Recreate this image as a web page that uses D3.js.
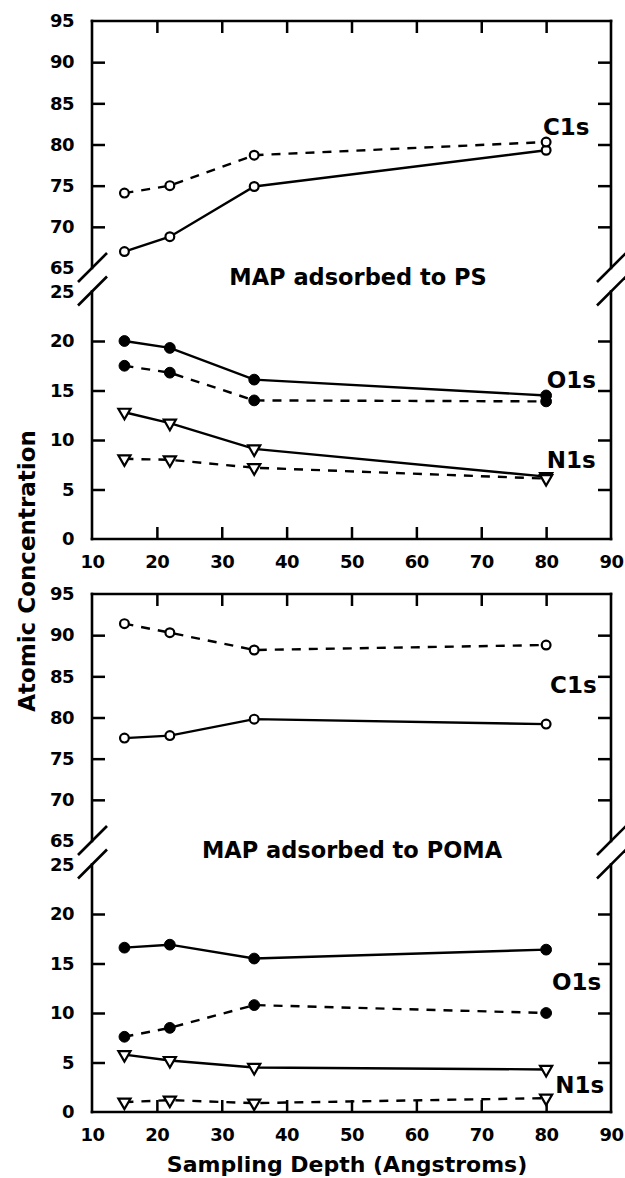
<!DOCTYPE html>
<html>
<head>
<meta charset="utf-8">
<script src="https://cdn.jsdelivr.net/npm/d3@7"></script>
<style>
  body { margin: 0; background: #fff; }
  svg { display: block; font-family: "DejaVu Sans", sans-serif; font-weight: bold; }
</style>
</head>
<body>
<div id="chart"></div>
<script>
// sampling depths (Angstroms)
const depth = [15, 22, 35, 80];

// MAP adsorbed to PS
const psC1sSolid  = [67.0, 68.8, 74.9, 79.3];
const psC1sDashed = [74.1, 75.0, 78.7, 80.3];
const psO1sSolid  = [20.0, 19.3, 16.1, 14.5];
const psO1sDashed = [17.5, 16.8, 14.0, 13.9];
const psN1sSolid  = [12.8, 11.7, 9.1, 6.3];
const psN1sDashed = [8.1, 8.0, 7.2, 6.1];

// MAP adsorbed to POMA
const pomaC1sSolid  = [77.5, 77.8, 79.8, 79.2];
const pomaC1sDashed = [91.4, 90.3, 88.2, 88.8];
const pomaO1sSolid  = [16.6, 16.9, 15.5, 16.4];
const pomaO1sDashed = [7.6, 8.5, 10.8, 10.0];
const pomaN1sSolid  = [5.8, 5.2, 4.5, 4.3];
const pomaN1sDashed = [1.0, 1.2, 0.9, 1.4];

// tick labels
const xTicks = [10, 20, 30, 40, 50, 60, 70, 80, 90];
const yUpperTicks = [65, 70, 75, 80, 85, 90, 95];
const yLowerTicks = [0, 5, 10, 15, 20, 25];

const W = 625, H = 1178;
const left = 92, right = 611;

const svg = d3.select("#chart").append("svg")
    .attr("width", W).attr("height", H);

const x = d3.scaleLinear().domain([10, 90]).range([left, right]);

const panels = [
  { top: 21, title: "MAP adsorbed to PS", titleX: 358,
    series: [
      { v: psC1sSolid, part: "u", dash: false, mark: "open" },
      { v: psC1sDashed, part: "u", dash: true, mark: "open" },
      { v: psO1sSolid, part: "l", dash: false, mark: "fill" },
      { v: psO1sDashed, part: "l", dash: true, mark: "fill" },
      { v: psN1sSolid, part: "l", dash: false, mark: "tri" },
      { v: psN1sDashed, part: "l", dash: true, mark: "tri" }
    ],
    labels: [
      { t: "C1s", part: "u", x: 79.5, y: 81.2 },
      { t: "O1s", part: "l", x: 80.1, y: 15.25 },
      { t: "N1s", part: "l", x: 80.1, y: 7.17 }
    ] },
  { top: 594, title: "MAP adsorbed to POMA", titleX: 352,
    series: [
      { v: pomaC1sSolid, part: "u", dash: false, mark: "open" },
      { v: pomaC1sDashed, part: "u", dash: true, mark: "open" },
      { v: pomaO1sSolid, part: "l", dash: false, mark: "fill" },
      { v: pomaO1sDashed, part: "l", dash: true, mark: "fill" },
      { v: pomaN1sSolid, part: "l", dash: false, mark: "tri" },
      { v: pomaN1sDashed, part: "l", dash: true, mark: "tri" }
    ],
    labels: [
      { t: "C1s", part: "u", x: 80.6, y: 83.0 },
      { t: "O1s", part: "l", x: 80.9, y: 12.3 },
      { t: "N1s", part: "l", x: 81.4, y: 1.9 }
    ] }
];

panels.forEach(p => {
  const yU = d3.scaleLinear().domain([65, 95]).range([p.top + 247, p.top]);
  const yL = d3.scaleLinear().domain([0, 25]).range([p.top + 518, p.top + 270.5]);
  const bottom = yL(0);
  const g = svg.append("g");

  // frame, broken on both sides
  const frame = [
    [left, p.top, right, p.top],
    [left, bottom, right, bottom],
    [left, p.top, left, yU(65)],
    [left, yL(25), left, bottom],
    [right, p.top, right, yU(65)],
    [right, yL(25), right, bottom]
  ];
  g.selectAll("line.frame").data(frame).join("line")
      .attr("class", "frame")
      .attr("x1", d => d[0]).attr("y1", d => d[1])
      .attr("x2", d => d[2]).attr("y2", d => d[3])
      .attr("stroke", "#000").attr("stroke-width", 2.6)
      .attr("stroke-linecap", "square");

  // break marks
  const breaks = [];
  [left, right].forEach(bx => [yU(65), yL(25)].forEach(by => breaks.push([bx, by])));
  g.selectAll("line.brk").data(breaks).join("line")
      .attr("class", "brk")
      .attr("x1", d => d[0] - 14).attr("y1", d => d[1] + 14)
      .attr("x2", d => d[0] + 15).attr("y2", d => d[1] - 15)
      .attr("stroke", "#000").attr("stroke-width", 2.6);

  // tick marks (inward)
  const tickStyle = sel => {
    sel.select(".domain").remove();
    sel.selectAll(".tick line").attr("stroke-width", 2.5);
  };
  g.append("g").attr("transform", `translate(${left},0)`)
      .call(d3.axisLeft(yU).tickValues([70, 75, 80, 85, 90]).tickSizeInner(-13).tickFormat(""))
      .call(tickStyle);
  g.append("g").attr("transform", `translate(${left},0)`)
      .call(d3.axisLeft(yL).tickValues([5, 10, 15, 20]).tickSizeInner(-13).tickFormat(""))
      .call(tickStyle);
  g.append("g").attr("transform", `translate(${right},0)`)
      .call(d3.axisRight(yU).tickValues([70, 75, 80, 85, 90]).tickSizeInner(-13).tickFormat(""))
      .call(tickStyle);
  g.append("g").attr("transform", `translate(${right},0)`)
      .call(d3.axisRight(yL).tickValues([5, 10, 15, 20]).tickSizeInner(-13).tickFormat(""))
      .call(tickStyle);
  g.append("g").attr("transform", `translate(0,${p.top})`)
      .call(d3.axisTop(x).tickValues([20, 30, 40, 50, 60, 70, 80]).tickSizeInner(-12).tickFormat(""))
      .call(tickStyle);
  g.append("g").attr("transform", `translate(0,${bottom})`)
      .call(d3.axisBottom(x).tickValues([20, 30, 40, 50, 60, 70, 80]).tickSizeInner(-12).tickFormat(""))
      .call(tickStyle);

  // tick labels
  const labelStyle = sel => {
    sel.attr("font-family", null).attr("font-size", null);
    sel.select(".domain").remove();
    sel.selectAll(".tick line").remove();
    sel.selectAll(".tick text")
        .style("font-size", "18px")
        .style("letter-spacing", "-0.5px")
        .attr("fill", "#000");
  };
  g.append("g").attr("transform", `translate(${left},0)`)
      .call(d3.axisLeft(yU).tickValues(yUpperTicks).tickSize(0).tickPadding(18))
      .call(labelStyle);
  g.append("g").attr("transform", `translate(${left},0)`)
      .call(d3.axisLeft(yL).tickValues(yLowerTicks).tickSize(0).tickPadding(18))
      .call(labelStyle);
  g.append("g").attr("transform", `translate(0,${bottom})`)
      .call(d3.axisBottom(x).tickValues(xTicks).tickSize(0).tickPadding(16))
      .call(labelStyle);

  // lines
  p.series.forEach(s => {
    const y = s.part === "u" ? yU : yL;
    const pts = depth.map((d, i) => [x(d), y(s.v[i])]);
    g.append("path")
        .attr("d", d3.line()(pts))
        .attr("fill", "none")
        .attr("stroke", "#000")
        .attr("stroke-width", 2.4)
        .attr("stroke-dasharray", s.dash ? "9,8" : null);
  });

  // markers on top
  p.series.forEach(s => {
    const y = s.part === "u" ? yU : yL;
    const pts = depth.map((d, i) => [x(d), y(s.v[i])]);
    if (s.mark === "tri") {
      g.selectAll(null).data(pts).join("path")
          .attr("d", d3.symbol(d3.symbolTriangle, 64)())
          .attr("transform", d => `translate(${d[0]},${d[1]}) rotate(180)`)
          .attr("fill", "#fff").attr("stroke", "#000").attr("stroke-width", 2.2);
    } else {
      g.selectAll(null).data(pts).join("circle")
          .attr("cx", d => d[0]).attr("cy", d => d[1])
          .attr("r", s.mark === "fill" ? 5.4 : 4.4)
          .attr("fill", s.mark === "fill" ? "#000" : "#fff")
          .attr("stroke", "#000").attr("stroke-width", s.mark === "fill" ? 1 : 2.2);
    }
  });

  // series labels
  g.selectAll("text.lab").data(p.labels).join("text")
      .attr("class", "lab")
      .attr("x", d => x(d.x))
      .attr("y", d => (d.part === "u" ? yU : yL)(d.y))
      .attr("font-size", 23)
      .text(d => d.t);

  // panel title in the break
  g.append("text")
      .attr("x", p.titleX).attr("y", p.top + 264)
      .attr("text-anchor", "middle")
      .attr("font-size", 22.5)
      .text(p.title);
});

// axis titles
svg.append("text")
    .attr("transform", "translate(35,571) rotate(-90)")
    .attr("text-anchor", "middle")
    .attr("font-size", 23)
    .text("Atomic Concentration");

svg.append("text")
    .attr("x", 347).attr("y", 1172)
    .attr("text-anchor", "middle")
    .attr("font-size", 22)
    .text("Sampling Depth (Angstroms)");
</script>
</body>
</html>
